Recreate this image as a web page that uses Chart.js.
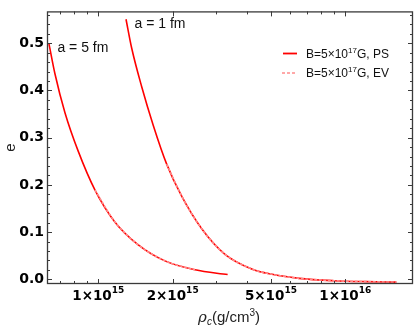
<!DOCTYPE html>
<html>
<head>
<meta charset="utf-8">
<script src="https://cdn.jsdelivr.net/npm/chart.js@4.4.0/dist/chart.umd.min.js"></script>
<style>
  html, body { margin: 0; padding: 0; background: #fff; }
</style>
</head>
<body>
<canvas id="chart" width="415" height="326"></canvas>
<script>
// central density (g/cm^3) vs ellipticity e
const rhoPS5 = [6.31e14, 6.68e14, 7.33e14, 8.30e14, 9.70e14, 1.169e15, 1.452e15, 1.862e15, 2.464e15, 3.34e15];
const ePS5   = [0.500, 0.435, 0.353, 0.271, 0.189, 0.121, 0.073, 0.039, 0.020, 0.010];
const rhoEV5 = [9.70e14, 1.169e15, 1.452e15, 1.862e15, 2.464e15];
const eEV5   = [0.189, 0.121, 0.073, 0.039, 0.020];

const rhoPS1 = [1.295e15, 1.365e15, 1.499e15, 1.670e15, 1.892e15, 2.176e15, 2.623e15, 3.258e15, 4.18e15, 5.0e15, 6.5e15, 9.0e15, 1.22e16, 1.61e16];
const ePS1   = [0.551, 0.490, 0.408, 0.326, 0.244, 0.176, 0.107, 0.053, 0.022, 0.011, 0.002, -0.003, -0.005, -0.006];
const rhoEV1 = [1.892e15, 2.176e15, 2.623e15, 3.258e15, 4.18e15, 5.0e15, 6.5e15, 9.0e15, 1.22e16, 1.61e16];
const eEV1   = [0.244, 0.176, 0.107, 0.053, 0.022, 0.011, 0.002, -0.003, -0.005, -0.006];

const curveLabels = ['a = 5 fm', 'a = 1 fm'];
const legendLabels = ['B=5×10^17G, PS', 'B=5×10^17G, EV'];

const xTicks = [1e15, 2e15, 5e15, 1e16];
const xTickMant = ['1×10', '2×10', '5×10', '1×10'];
const xTickExp = ['15', '15', '15', '16'];
const xMinor = [7e14, 8e14, 9e14, 3e15, 4e15, 6e15, 7e15, 8e15, 9e15];
const yTicks = [0, 0.1, 0.2, 0.3, 0.4, 0.5];
const yTickLabels = ['0.0', '0.1', '0.2', '0.3', '0.4', '0.5'];
const yMinor = [0.02, 0.04, 0.06, 0.08, 0.12, 0.14, 0.16, 0.18, 0.22, 0.24, 0.26, 0.28,
                0.32, 0.34, 0.36, 0.38, 0.42, 0.44, 0.46, 0.48, 0.52, 0.54, 0.56];

const toPoints = (xs, ys) => xs.map((x, i) => ({ x: x, y: ys[i] }));

const PS_COLOR = '#ff0000';
const EV_COLOR = '#ff8c8c';
const TEXT_FONT = '"Liberation Sans", Arial, sans-serif';
const TICK_FONT = '"DejaVu Sans", sans-serif';

function psSet(label, pts) {
    return { label: label, data: pts, showLine: true, borderColor: PS_COLOR, borderWidth: 1.6,
             pointRadius: 0, cubicInterpolationMode: 'monotone', order: 1 };
}
function evSet(label, pts) {
    return { label: label, data: pts, showLine: true, borderColor: EV_COLOR, borderWidth: 1.6,
             borderDash: [3, 1.5], pointRadius: 0, cubicInterpolationMode: 'monotone', order: 0 };
}

// draws "main" + raised small "exp" + tail, returns width
function drawSup(ctx, parts, x, y, font, supFont, rise) {
    let cx = x;
    parts.forEach((p, i) => {
        ctx.font = (i % 2 === 1) ? supFont : font;
        ctx.fillText(p, cx, i % 2 === 1 ? y - rise : y);
        cx += ctx.measureText(p).width;
    });
    return cx - x;
}
function measureSup(ctx, parts, font, supFont) {
    let w = 0;
    parts.forEach((p, i) => {
        ctx.font = (i % 2 === 1) ? supFont : font;
        w += ctx.measureText(p).width;
    });
    return w;
}

const decorations = {
    id: 'decorations',
    afterDraw(chart) {
        const ctx = chart.ctx;
        const a = chart.chartArea;
        const xs = chart.scales.x, ys = chart.scales.y;
        ctx.save();

        // frame
        ctx.strokeStyle = '#3a3a3a';
        ctx.lineWidth = 1.3;
        ctx.strokeRect(a.left + 0.5, a.top + 0.5, a.right - a.left - 1, a.bottom - a.top - 1);

        // inward ticks on all four sides
        ctx.lineWidth = 1;
        ctx.beginPath();
        const yt = (v, len) => {
            const p = Math.round(ys.getPixelForValue(v)) + 0.5;
            ctx.moveTo(a.left, p); ctx.lineTo(a.left + len, p);
            ctx.moveTo(a.right, p); ctx.lineTo(a.right - len, p);
        };
        const xt = (v, len) => {
            const p = Math.round(xs.getPixelForValue(v)) + 0.5;
            ctx.moveTo(p, a.bottom); ctx.lineTo(p, a.bottom - len);
            ctx.moveTo(p, a.top); ctx.lineTo(p, a.top + len);
        };
        yTicks.forEach(v => yt(v, 5));
        yMinor.forEach(v => yt(v, 3));
        xTicks.forEach(v => xt(v, 5));
        xMinor.forEach(v => xt(v, 3));
        ctx.stroke();

        // x tick labels with superscript exponents
        ctx.fillStyle = '#000';
        ctx.textAlign = 'left';
        ctx.textBaseline = 'alphabetic';
        const tf = 'bold 13.5px ' + TICK_FONT, tsf = 'bold 9px ' + TICK_FONT;
        xTicks.forEach((v, i) => {
            const parts = [xTickMant[i], xTickExp[i]];
            const w = measureSup(ctx, parts, tf, tsf);
            drawSup(ctx, parts, xs.getPixelForValue(v) - w / 2, 300, tf, tsf, 7);
        });

        // x axis title: rho_c(g/cm^3)
        ctx.fillStyle = '#222';
        const tfont = '15px ' + TEXT_FONT;
        const cx = (a.left + a.right) / 2;
        ctx.font = 'italic 15px "DejaVu Serif", serif';
        const wr = ctx.measureText('ρ').width;
        ctx.font = 'italic 10px ' + TEXT_FONT;
        const wc = ctx.measureText('c').width;
        ctx.font = tfont;
        const wu = ctx.measureText('(g/cm').width;
        ctx.font = '10px ' + TEXT_FONT;
        const w3 = ctx.measureText('3').width;
        ctx.font = tfont;
        const wp = ctx.measureText(')').width;
        let tx = cx - (wr + wc + wu + w3 + wp) / 2 - 1;
        const ty = 322;
        ctx.font = 'italic 15px "DejaVu Serif", serif'; ctx.fillText('ρ', tx, ty); tx += wr;
        ctx.font = 'italic 10px ' + TEXT_FONT; ctx.fillText('c', tx, ty + 3); tx += wc;
        ctx.font = tfont; ctx.fillText('(g/cm', tx, ty); tx += wu;
        ctx.font = '10px ' + TEXT_FONT; ctx.fillText('3', tx, ty - 6); tx += w3;
        ctx.font = tfont; ctx.fillText(')', tx, ty);

        // y axis title
        ctx.save();
        ctx.translate(15, (a.top + a.bottom) / 2);
        ctx.rotate(-Math.PI / 2);
        ctx.textAlign = 'center';
        ctx.font = tfont;
        ctx.fillText('e', 0, 0);
        ctx.restore();

        // curve labels next to the top of each curve
        ctx.font = '14px ' + TEXT_FONT;
        ctx.textBaseline = 'middle';
        ctx.fillStyle = '#111';
        [rhoPS5, rhoPS1].forEach((xsArr, i) => {
            const ysArr = i === 0 ? ePS5 : ePS1;
            const px = xs.getPixelForValue(xsArr[0]);
            const py = ys.getPixelForValue(ysArr[0]);
            ctx.fillText(curveLabels[i], px + 8.5, py + 5);
        });

        // legend
        const lf = '12px ' + TEXT_FONT, lsf = '8px ' + TEXT_FONT;
        ctx.textBaseline = 'alphabetic';
        legendLabels.forEach((lab, i) => {
            const ly = 53 + i * 19.5;
            ctx.save();
            ctx.strokeStyle = i === 0 ? PS_COLOR : EV_COLOR;
            ctx.lineWidth = i === 0 ? 1.8 : 1.3;
            ctx.setLineDash(i === 0 ? [] : [3, 2]);
            ctx.beginPath();
            ctx.moveTo(i === 0 ? 283 : 282, ly + 0.5);
            ctx.lineTo(297, ly + 0.5);
            ctx.stroke();
            ctx.restore();
            ctx.fillStyle = '#111';
            drawSup(ctx, lab.split('^').flatMap(s => {
                const m = s.match(/^(\d+)(.*)$/);
                return m ? [m[1], m[2]] : [s];
            }), 306, ly + 4.5, lf, lsf, 5);
        });

        ctx.restore();
    }
};

new Chart(document.getElementById('chart'), {
    type: 'scatter',
    data: {
        datasets: [
            psSet('PS a=5', toPoints(rhoPS5, ePS5)),
            evSet('EV a=5', toPoints(rhoEV5, eEV5)),
            psSet('PS a=1', toPoints(rhoPS1, ePS1)),
            evSet('EV a=1', toPoints(rhoEV1, eEV1))
        ]
    },
    options: {
        responsive: false,
        animation: false,
        layout: { padding: { top: 2, right: 2, left: 0, bottom: 0 } },
        plugins: { legend: { display: false }, tooltip: { enabled: false } },
        scales: {
            x: {
                type: 'logarithmic',
                min: 6.2e14,
                max: 1.88e16,
                grid: { display: false, drawTicks: false },
                border: { display: false },
                ticks: { display: false },
                afterBuildTicks: s => { s.ticks = xTicks.map(v => ({ value: v })); },
                afterFit: s => { s.height = 42; }
            },
            y: {
                min: -0.010,
                max: 0.5676,
                grid: { display: false, drawTicks: false },
                border: { display: false },
                afterBuildTicks: s => { s.ticks = yTicks.map(v => ({ value: v })); },
                ticks: {
                    padding: 3,
                    color: '#000',
                    font: { family: TICK_FONT, size: 14, weight: 'bold' },
                    callback: (v, i) => yTickLabels[i]
                },
                afterFit: s => { s.width = 47; }
            }
        }
    },
    plugins: [decorations]
});
</script>
</body>
</html>
